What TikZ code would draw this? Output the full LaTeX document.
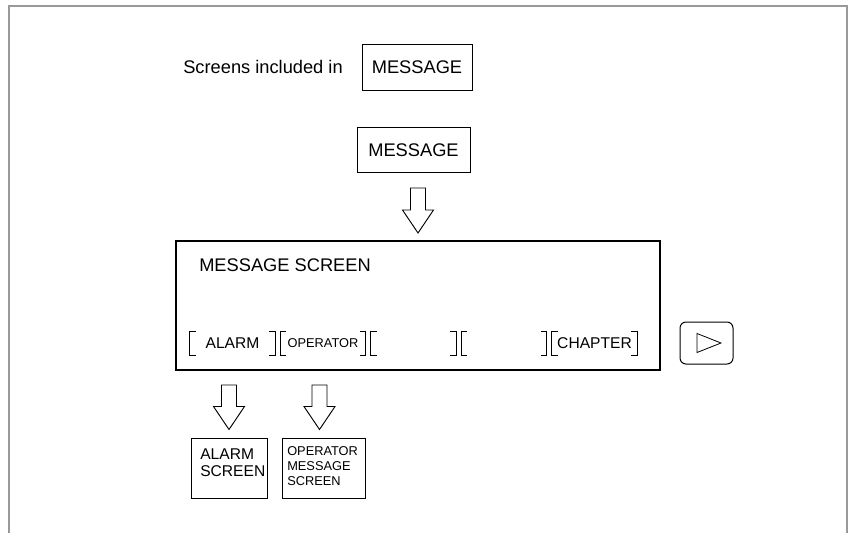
\documentclass[tikz,border=0pt]{standalone}
\usepackage{fontspec}
\setmainfont{Liberation Sans}
\usetikzlibrary{calc}
\newcommand{\bigfont}{\fontsize{13.7}{16}\selectfont}
\newcommand{\keyfont}{\fontsize{11.7}{12.75}\selectfont}
\newcommand{\tinykey}{\fontsize{9.6}{11.25}\selectfont}
\begin{document}
\begin{tikzpicture}[x=0.75pt,y=-0.75pt,
    box/.style={draw, line width=0.75pt, inner sep=0pt, font=\bigfont},
    softkey/.style={inner sep=0pt, minimum width=63.75pt, minimum height=17.25pt, font=\keyfont},
    bracket/.style={line width=0.6pt},
    frame/.style={draw=black!40, line width=1.5pt},
    hollow/.style={draw, line width=0.7pt, fill=white, line join=miter,
      to path={(\tikztostart) ++(-7.5,0) -- ($(\tikztotarget)+(-7.5,-23)$) -- ++(-8,0) -- (\tikztotarget)
        -- ++(15.5,-23) -- ++(-8,0) -- ($(\tikztostart)+(7.5,0)$) -- cycle}}]
    \useasboundingbox (0,0) rectangle (849,533);
    \draw[frame] (9,533) -- (9,6) -- (847,6) -- (847,533);
    \node[box, minimum width=82.5pt, minimum height=34.5pt] (msg1) at (417,67) {MESSAGE};
    \node[anchor=east, inner sep=0pt, font=\bigfont] (incl) at (343,67) {Screens included in};
    \node[box, minimum width=84.75pt, minimum height=33.75pt] (msg2) at (413.5,150) {MESSAGE};
    \node[draw, line width=1.5pt, minimum width=363pt, minimum height=96.75pt] (screen) at (418,305.5) {};
    \node[anchor=west, inner sep=0pt, font=\bigfont] (title) at (199,265) {MESSAGE SCREEN};
    \foreach \i/\lab in {1/ALARM, 2/{\tinykey OPERATOR}, 3/, 4/, 5/CHAPTER} {
        \node[softkey] (key\i) at ({232.5+90.5*(\i-1)},343.5) {\lab};
        \draw[bracket] ($(key\i.north west)+(6,0)$) -| (key\i.south west) -- ++(6,0);
        \draw[bracket] ($(key\i.north east)+(-6,0)$) -| (key\i.south east) -- ++(-6,0);
    }
    \node[draw, rounded corners=4.5pt, line width=0.75pt, minimum width=39.75pt, minimum height=31.5pt] (next) at (706.5,343) {};
    \draw[line width=0.6pt] ($(next.center)+(-9.5,-9.5)$) -- ++(0,19) -- ++(24,-9.5) -- cycle;
    \node[box, minimum width=57pt, minimum height=45pt] (alarmbox) at (229,468) {};
    \node[anchor=base west, inner sep=0pt, align=left, font=\keyfont] (alarmtxt) at (200,476) {ALARM\\SCREEN};
    \node[box, minimum width=62.25pt, minimum height=45pt] (opbox) at (323.5,468) {};
    \node[anchor=base west, inner sep=0pt, align=left, font=\tinykey] (optxt) at (287,485.5) {OPERATOR\\MESSAGE\\SCREEN};
    \coordinate (a0) at ($(msg2.south -| screen.north)+(0,15)$);
    \coordinate (b0) at ($(screen.north)+(0,-7)$);
    \draw[hollow] (a0) to (b0);
    \foreach \b/\dx in {alarmbox/0, opbox/-4} {
        \coordinate (a\b) at ($(screen.south -| \b.north)+(\dx,14)$);
        \coordinate (b\b) at ($(\b.north)+(\dx,-8)$);
        \draw[hollow] (a\b) to (b\b);
    }
\end{tikzpicture}
\end{document}
